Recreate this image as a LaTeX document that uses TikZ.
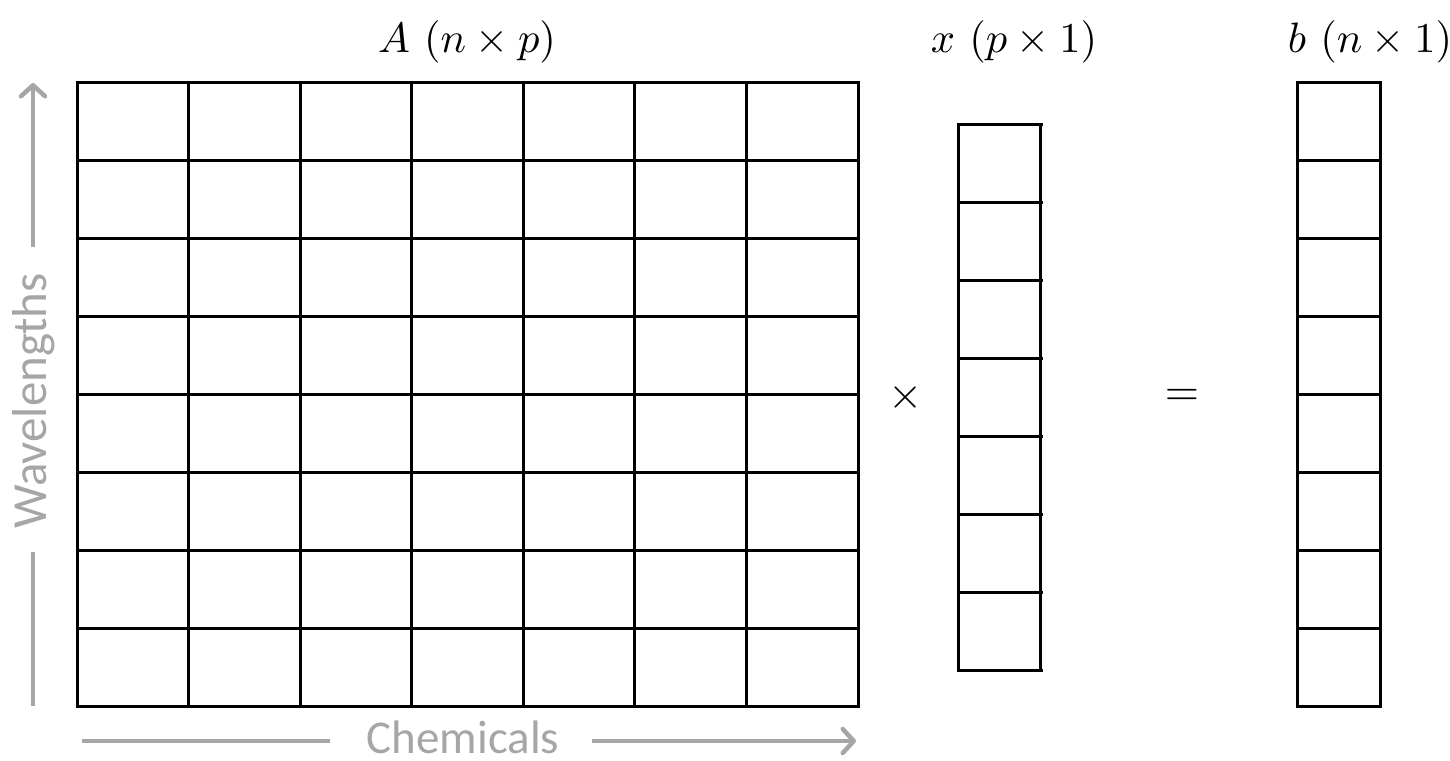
\documentclass[tikz,border=0pt]{standalone}
\usepackage{graphicx}
\usepackage{fontspec}
\newfontfamily\carlito{Carlito}
\usetikzlibrary{arrows.meta}
\definecolor{axisgray}{HTML}{A6A6A6}
\newcommand{\biglab}[1]{\scalebox{4.25}{$#1$}}
\newcommand{\bigop}[1]{\scalebox{4.4}{$#1$}}
\begin{document}
\begin{tikzpicture}[x=1pt,y=-1pt,
  mat/.style={draw=black, line width=3pt, inner sep=0pt, outer sep=0pt, anchor=north west},
  gridline/.style={draw=black, line width=3pt},
  mlabel/.style={inner sep=0pt},
  axis/.style={draw=axisgray, line width=4.5pt},
  axishead/.style={axis, -{Straight Barb[length=11pt,width=24pt,round]}},
  axislabel/.style={text=axisgray, inner sep=0pt}]
\useasboundingbox (0,0) rectangle (1450,760);

% matrix A (8 x 7)
\node[mat, minimum width=781pt, minimum height=624pt] (A) at (77,82) {};
\foreach \i in {1,...,6}
  \draw[gridline] ([xshift=\i*111.571pt]A.north west) -- ([xshift=\i*111.571pt]A.south west);
\foreach \j in {1,...,7}
  \draw[gridline] ([yshift=-\j*78pt]A.north west) -- ([yshift=-\j*78pt]A.north east);

% vector x (7 x 1)
\node[mat, minimum width=82pt, minimum height=546pt] (xv) at (958,124) {};
\foreach \j in {0,...,7}
  \draw[gridline] ([yshift=-\j*78pt]xv.north west) -- ([yshift=-\j*78pt,xshift=3pt]xv.north east);

% vector b (8 x 1)
\node[mat, minimum width=83pt, minimum height=624pt] (bv) at (1297,82) {};
\foreach \j in {1,...,7}
  \draw[gridline] ([yshift=-\j*78pt]bv.north west) -- ([yshift=-\j*78pt]bv.north east);

% labels
\node[mlabel] (Alab) at (467,42) {\biglab{A~(n \times p)}};
\node[mlabel] (xlab) at (1014,42) {\biglab{x~(p \times 1)}};
\node[mlabel] (blab) at (1370,42) {\biglab{b~(n \times 1)}};
\node[mlabel] (times) at (906,397) {\bigop{\times}};
\node[mlabel] (equals) at (1182,397) {\bigop{=}};

% axes
\node[axislabel, rotate=90, font=\carlito\fontsize{49}{56}\selectfont] (wl) at (34,401) {Wavelengths};
\coordinate (v0) at (33,706);
\coordinate (v1) at (33,552);
\coordinate (v2) at (33,247);
\coordinate (v3) at (33,83);
\draw[axis] (v0) -- (v1);
\draw[axishead] (v2) -- (v3);

\node[axislabel, font=\carlito\fontsize{47}{54}\selectfont] (chem) at (463,737) {Chemicals};
\coordinate (h0) at (82,741);
\coordinate (h1) at (330,741);
\coordinate (h2) at (592,741);
\coordinate (h3) at (856,741);
\draw[axis] (h0) -- (h1);
\draw[axishead] (h2) -- (h3);
\end{tikzpicture}
\end{document}
